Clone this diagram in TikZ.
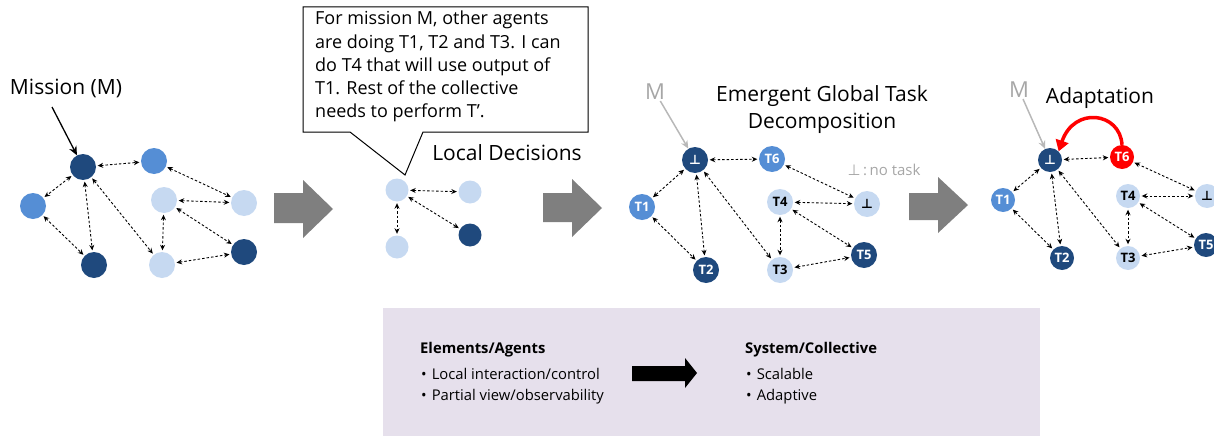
\documentclass[tikz,border=0pt]{standalone}
\usepackage{fontspec}
\setmainfont{Open Sans}
\newfontfamily\dejavu{DejaVu Sans}
\usetikzlibrary{arrows.meta}
\definecolor{dk}{HTML}{1F497D}
\definecolor{md}{HTML}{558ED5}
\definecolor{lt}{HTML}{C6D9F1}
\definecolor{grayarr}{HTML}{7F7F7F}
\definecolor{mgray}{HTML}{A6A6A6}
\definecolor{boxfill}{HTML}{E6E0EC}
\newcommand{\notask}{{\dejavu ⊥}}
\tikzset{
  ag/.style={circle, minimum size=26pt, inner sep=0pt, font=\fontsize{13}{13}\selectfont\bfseries},
  sm/.style={minimum size=23pt},
  sz4/.style={minimum size=24pt},
  dkn/.style={ag, fill=dk, text=white},
  mdn/.style={ag, fill=md, text=white},
  ltn/.style={ag, fill=lt, text=black},
  rdn/.style={ag, fill=red, text=white},
  lnk/.style={dash pattern=on 2.5pt off 2pt, line width=0.9pt, {Stealth[length=5.5pt,width=5pt]}-{Stealth[length=5.5pt,width=5pt]}, shorten >=1.5pt, shorten <=1.5pt},
  big/.style={font=\fontsize{21}{21}\selectfont},
  mlab/.style={font=\fontsize{22}{22}\selectfont, text=mgray, inner sep=1pt},
  marr/.style={draw=mgray!80, line width=1.5pt, -{Stealth[length=8pt,width=7pt]}},
  grayblock/.style={fill=grayarr},
  btxt/.style={anchor=west, inner sep=0pt, font=\fontsize{14.8}{14.8}\selectfont},
  bhead/.style={anchor=west, inner sep=0pt, font=\fontsize{14.8}{14.8}\selectfont\bfseries}
}
\begin{document}
\begin{tikzpicture}[x=1pt,y=-1pt]
\useasboundingbox (0,0) rectangle (1214,436);
% ---------- gray block arrows
\fill[grayblock] (274,193) -- (303,193) -- (303,180) -- (333,209) -- (303,238) -- (303,223) -- (274,223) -- cycle;
\fill[grayblock] (543,193) -- (572,193) -- (572,179) -- (602,208) -- (572,237) -- (572,222) -- (543,222) -- cycle;
\fill[grayblock] (909,193) -- (938,193) -- (938,177) -- (968,205) -- (938,233) -- (938,220) -- (909,220) -- cycle;

% ---------- graph 1
\node[dkn] (a1) at (83,167) {};
\node[mdn] (b1) at (154,161) {};
\node[mdn] (c1) at (33,206) {};
\node[dkn] (d1) at (94,265) {};
\node[ltn] (e1) at (164,200) {};
\node[ltn] (f1) at (244,203) {};
\node[ltn] (g1) at (162,265) {};
\node[dkn] (h1) at (244,252) {};
\foreach \u/\v in {a1/b1,a1/c1,a1/d1,a1/g1,b1/f1,e1/f1,e1/g1,e1/h1,g1/h1,c1/d1}
  \draw[lnk] (\u) -- (\v);
\node[big] (mis) at (66,88) {Mission (M)};
\coordinate (mis0) at (52,107);
\draw[line width=1.3pt, -{Stealth[length=9pt,width=8pt]}] (mis0) -- (a1);

% ---------- callout + graph 2
\draw[fill=white, line width=1pt] (303,7) -- (588,7) -- (588,132) -- (423,132) -- (405,175) -- (350,132) -- (303,132) -- cycle;
\node[anchor=north west, align=left, inner sep=0pt, font=\fontsize{18}{23.2}\selectfont] (call) at (315,11)
  {For mission M, other agents\\are doing T1, T2 and T3. I can\\do T4 that will use output of\\T1. Rest of the collective\\needs to perform T’.};
\node[big] (locd) at (507,153) {Local Decisions};
\node[ltn,sm] (p2) at (397,190) {};
\node[ltn,sm] (q2) at (470,192) {};
\node[dkn,sm] (r2) at (470,235) {};
\node[ltn,sm] (s2) at (397,247) {};
\foreach \u/\v in {p2/q2,p2/r2,p2/s2}
  \draw[lnk] (\u) -- (\v);

% ---------- graph 3
\node[dkn] (n3) at (695,160) {\notask};
\node[mdn] (t63) at (772,159) {T6};
\node[mdn] (t13) at (642,207) {T1};
\node[dkn] (t23) at (706,270) {T2};
\node[ltn] (t43) at (780,202) {T4};
\node[ltn] (x3) at (867,204) {\notask};
\node[ltn] (t33) at (780,270) {T3};
\node[dkn] (t53) at (864,255) {T5};
\foreach \u/\v in {n3/t63,n3/t13,n3/t23,n3/t33,t13/t23,t63/x3,t43/x3,t43/t33,t43/t53,t33/t53}
  \draw[lnk] (\u) -- (\v);
\node[mlab] (m3) at (655,92) {M};
\draw[marr] (m3) -- (n3);
\node[big] (egt) at (822,96) {Emergent Global Task};
\node[big] (dec) at (822,123) {Decomposition};
\node[font=\fontsize{15}{15}\selectfont, text=mgray] (nt) at (884,170) {\notask\,:\,no task};

% ---------- graph 4
\node[dkn,sz4] (n4) at (1050,160) {\notask};
\node[rdn,sz4] (t64) at (1122,157) {T6};
\node[mdn,sz4] (t14) at (1003,200) {T1};
\node[dkn,sz4] (t24) at (1062,258) {T2};
\node[ltn,sz4] (t44) at (1128,196) {T4};
\node[ltn,sz4] (x4) at (1207,196) {\notask};
\node[ltn,sz4] (t34) at (1128,258) {T3};
\node[dkn,sz4] (t54) at (1206,245) {T5};
\foreach \u/\v in {n4/t64,n4/t14,n4/t24,n4/t34,t14/t24,t64/x4,t44/x4,t44/t34,t44/t54,t34/t54}
  \draw[lnk] (\u) -- (\v);
\node[mlab] (m4) at (1019,90) {M};
\draw[marr] (m4) -- (n4);
\node[big] (adp) at (1100,98) {Adaptation};
\draw[red, line width=3.5pt, -{Triangle[length=11pt,width=13pt]}] (t64.north) .. controls (1120,112) and (1074,106) .. (n4.north east);

% ---------- bottom box
\fill[boxfill] (383,308) rectangle (1040,436);
\node[bhead] (ea) at (420,350) {Elements/Agents};
\node[btxt] (ea1) at (421,374) {\textbullet\hspace{5pt}Local interaction/control};
\node[btxt] (ea2) at (421,397) {\textbullet\hspace{5pt}Partial view/observability};
\node[bhead] (sc) at (745,350) {System/Collective};
\node[btxt] (sc1) at (746,374) {\textbullet\hspace{5pt}Scalable};
\node[btxt] (sc2) at (746,397) {\textbullet\hspace{5pt}Adaptive};
\fill[black] (632,366) -- (685,366) -- (685,358) -- (697,373) -- (685,388) -- (685,381) -- (632,381) -- cycle;
\end{tikzpicture}
\end{document}
